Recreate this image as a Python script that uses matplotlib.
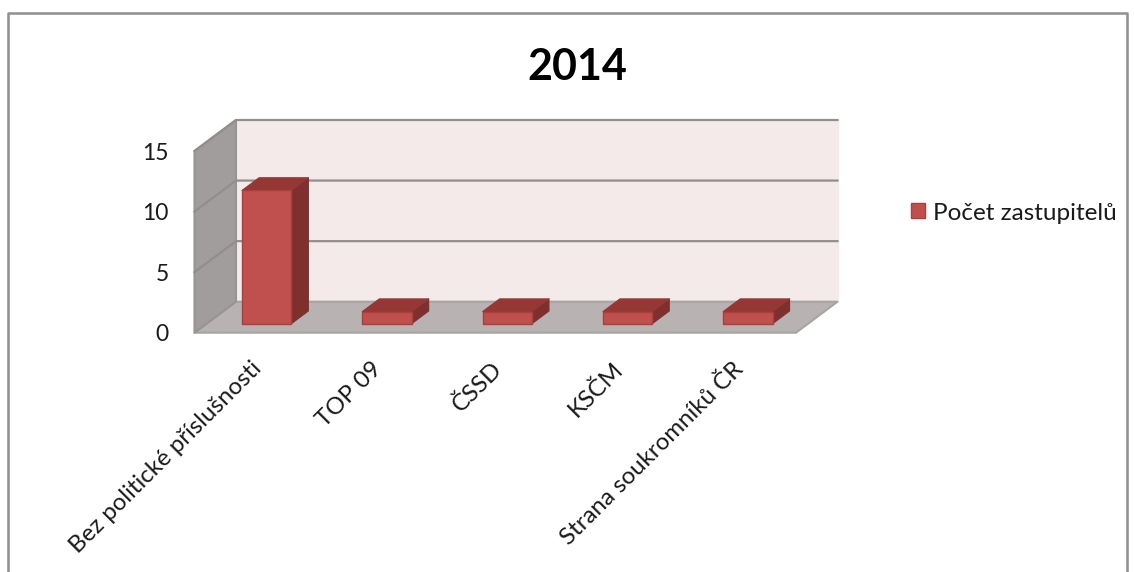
"""Plot the number of representatives per party in 2014 as a fake 3D column chart."""

from matplotlib import pyplot
from matplotlib.lines import Line2D
from matplotlib.patches import Patch, Polygon
from matplotlib.transforms import ScaledTranslation


categories = ['Bez politické příslušnosti', 'TOP 09', 'ČSSD', 'KSČM',
              'Strana soukromníků ČR']
values = [11, 1, 1, 1, 1]
yticks = [0, 5, 10, 15]
series_name = 'Počet zastupitelů'
title = '2014'

W, H = 1134, 572
pyplot.rcParams['font.family'] = ['Lato', 'DejaVu Sans']

fig = pyplot.figure(figsize=(W / 100, H / 100), dpi=100)
fig.patch.set_facecolor('white')

# Outer frame of the chart, its bottom edge is cut off by the picture.
xs, ys = (8, 8, 1127, 1127), (572, 13, 13, 572)
fig.add_artist(Line2D([x / W for x in xs], [1 - y / H for y in ys],
                      color='#8f8f8f', lw=1.8))

# The axes is the front plane of the box, positions are set in pixels.
left, right, bottom, top = 194.5, 796.0, 332.7, 151.0
ax = fig.add_axes([left / W, 1 - bottom / H, (right - left) / W,
                   (bottom - top) / H])
ax.set_xlim(-0.5, len(categories) - 0.5)
ax.set_ylim(0, 15)
ax.patch.set_visible(False)
for spine in ax.spines.values():
    spine.set_visible(False)

# Depth of the box, in data units.
xscale = (right - left) / len(categories)
yscale = (bottom - top) / 15
dx, dy = 41.5 / xscale, 31.0 / yscale


def shifted(x, y, depth):
    """Move a point of the front plane backwards by a fraction of the depth."""
    return (x + depth * dx, y + depth * dy)


def face(points, color, edge=None, zorder=2, lw=0.8):
    ax.add_patch(Polygon(points, closed=True, facecolor=color,
                         edgecolor=edge or color, lw=lw, zorder=zorder,
                         clip_on=False, joinstyle='round'))


x0, x1 = ax.get_xlim()
y0, y1 = ax.get_ylim()
wall_edge = '#959595'

# Back wall, side wall and floor.
face([shifted(x0, y0, 1), shifted(x1, y0, 1), shifted(x1, y1, 1),
      shifted(x0, y1, 1)], '#f5eaea', zorder=1)
face([(x0, y0), shifted(x0, y0, 1), shifted(x0, y1, 1), (x0, y1)],
     '#a19d9d', edge=wall_edge, zorder=1.2, lw=1.5)
face([(x0, y0), (x1, y0), shifted(x1, y0, 1), shifted(x0, y0, 1)],
     '#b9b2b2', edge='#a8a4a4', zorder=1.1, lw=1.5)

# Gridlines run along the back wall and down the side wall.
for tick in yticks[1:]:
    xa, ya = shifted(x0, tick, 0)
    xb, yb = shifted(x0, tick, 1)
    xc, yc = shifted(x1, tick, 1)
    ax.plot([xa, xb, xc], [ya, yb, yc], color='#938e8e', lw=1.6, zorder=1.5,
            clip_on=False, solid_joinstyle='miter')

# Columns, each with a front, a side and a top face.
bar_width = 0.41
front_depth, back_depth = 0.29, 0.70
for i, value in enumerate(values):
    xa = i - bar_width / 2
    xb = xa + bar_width
    a0 = shifted(xa, 0, front_depth)
    b0 = shifted(xb, 0, front_depth)
    a1 = shifted(xa, value, front_depth)
    b1 = shifted(xb, value, front_depth)
    b2 = shifted(xb, 0, back_depth)
    c1 = shifted(xa, value, back_depth)
    d1 = shifted(xb, value, back_depth)
    face([b0, b2, d1, b1], '#7f302e', zorder=3)
    face([a1, b1, d1, c1], '#953735', zorder=3)
    face([a0, b0, b1, a1], '#c0504d', edge='#a9403d', zorder=3.1, lw=1.0)

ax.set_yticks(yticks)
ax.set_xticks(range(len(categories)))
ax.set_xticklabels(categories, rotation=45, ha='right', va='top',
                   rotation_mode='anchor', fontsize=17.3, color='#1a1a1a')
ax.tick_params(axis='x', length=0, pad=18)
ax.tick_params(axis='y', length=0, pad=18.5, labelsize=16.5,
               labelcolor='#1a1a1a')

# The slanted labels sit a little left of the column position.
nudge = ScaledTranslation(-4 / 100, 0, fig.dpi_scale_trans)
for label in ax.get_xticklabels():
    label.set_transform(label.get_transform() + nudge)

fig.text(577 / W, 1 - 67 / H, title, ha='center', va='center', fontsize=31,
         fontweight='bold', color='black')

handle = Patch(facecolor='#c0504d', edgecolor='#a9403d', lw=1.0)
fig.legend(handles=[handle], labels=[series_name], frameon=False,
           loc='center left', bbox_to_anchor=(903.5 / W, 1 - 213 / H),
           fontsize=17.5, labelcolor='#1a1a1a', handlelength=0.58,
           handleheight=0.58, handletextpad=0.33, borderpad=0.3,
           borderaxespad=0)

fig.savefig('out.png', dpi=100)
